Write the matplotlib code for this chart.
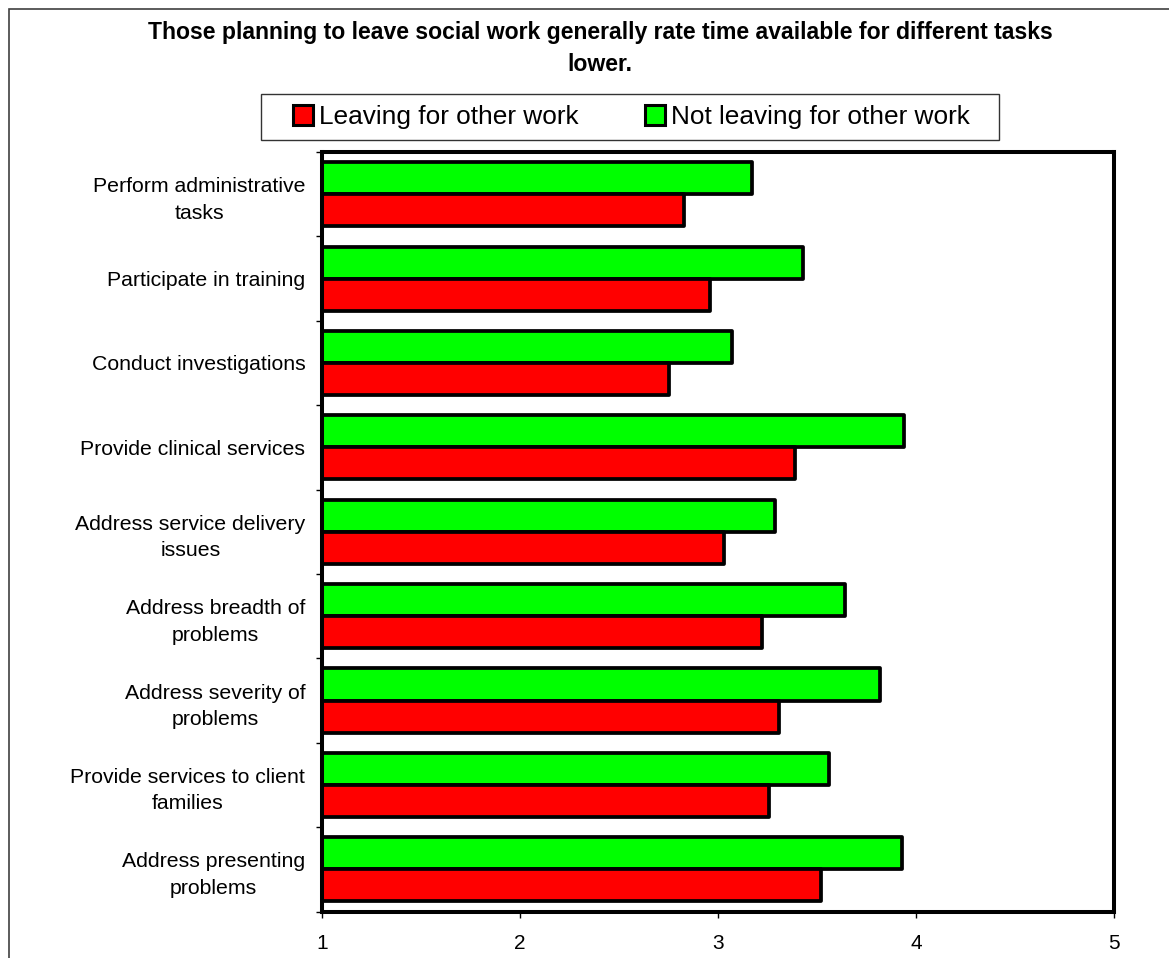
import numpy as np
import matplotlib
matplotlib.use("Agg")
import matplotlib.pyplot as plt
from matplotlib.patches import Patch, Rectangle

plt.rcParams["font.family"] = ["Liberation Sans", "DejaVu Sans"]

# Survey ratings of time available, by task and career intention
categories = [
    "Perform administrative\ntasks",
    "Participate in training",
    "Conduct investigations",
    "Provide clinical services",
    "Address service delivery\nissues",
    "Address breadth of\nproblems",
    "Address severity of\nproblems",
    "Provide services to client\nfamilies",
    "Address presenting\nproblems",
]
leaving = [2.83, 2.96, 2.75, 3.39, 3.03, 3.22, 3.31, 3.26, 3.52]
not_leaving = [3.17, 3.43, 3.07, 3.94, 3.29, 3.64, 3.82, 3.56, 3.93]
series_names = ["Leaving for other work", "Not leaving for other work"]
x_ticks = [1, 2, 3, 4, 5]
title = ("Those planning to leave social work generally rate time available "
         "for different tasks\nlower.")

W, H = 1169, 958
fig = plt.figure(figsize=(W / 100, H / 100), dpi=100)
fig.patch.set_facecolor("white")

ax = fig.add_axes([322 / W, (H - 911.5) / H, (1114 - 322) / W, (911.5 - 152) / H])

RED = "#FF0000"
GREEN = "#00FF00"
base = x_ticks[0]
bar_h = 0.38
pos = np.arange(len(categories))

ax.barh(pos - bar_h / 2, np.array(not_leaving) - base, left=base, height=bar_h,
        color=GREEN, edgecolor="black", linewidth=2.7, joinstyle="round", zorder=2)
ax.barh(pos + bar_h / 2, np.array(leaving) - base, left=base, height=bar_h,
        color=RED, edgecolor="black", linewidth=2.7, joinstyle="round", zorder=2)

ax.set_xlim(x_ticks[0], x_ticks[-1])
ax.set_ylim(len(categories) - 0.5, -0.5)

ax.set_xticks(x_ticks)
ax.set_xticklabels([str(t) for t in x_ticks], fontsize=15)
ax.tick_params(axis="x", direction="out", length=4, width=1, pad=12, color="black")

# Category labels centred in each band, tick marks on band boundaries
ax.set_yticks(pos)
ax.set_yticklabels(categories, fontsize=15.3)
ax.set_yticks(np.arange(len(categories) + 1) - 0.5, minor=True)
ax.tick_params(axis="y", which="major", length=0, pad=12)
ax.tick_params(axis="y", which="minor", direction="out", length=4, width=1, color="black")
for lbl in ax.get_yticklabels():
    lbl.set_multialignment("center")
    lbl.set_linespacing(1.5)

for sp in ax.spines.values():
    sp.set_linewidth(2.9)
    sp.set_color("black")
    sp.set_zorder(3)

# Title
fig.text(600 / W, 1 - 21 / H, title, ha="center", va="top", fontsize=16.6,
         fontweight="bold", linespacing=1.5)

# Legend with a plain rectangular box
handles = [
    Patch(facecolor=RED, edgecolor="black", linewidth=2.2, joinstyle="round"),
    Patch(facecolor=GREEN, edgecolor="black", linewidth=2.2, joinstyle="round"),
]
fig.legend(handles, series_names, loc="center left",
           bbox_to_anchor=(293 / W, 1 - 117 / H), ncol=2, frameon=False,
           fontsize=18.9, borderpad=0, borderaxespad=0, handlelength=0.76,
           handleheight=0.78, handletextpad=0.22, columnspacing=2.55)
fig.patches.append(Rectangle((261 / W, 1 - 140 / H), (999 - 261) / W, 46 / H,
                             transform=fig.transFigure, fill=False,
                             edgecolor="#333333", linewidth=1.0))

# Chart-area border
fig.patches.append(Rectangle((9 / W, -0.5), 2.0, 1.5 - 9 / H,
                             transform=fig.transFigure, fill=False,
                             edgecolor="#404040", linewidth=1.2))

fig.savefig("out.png", dpi=100, facecolor="white")
